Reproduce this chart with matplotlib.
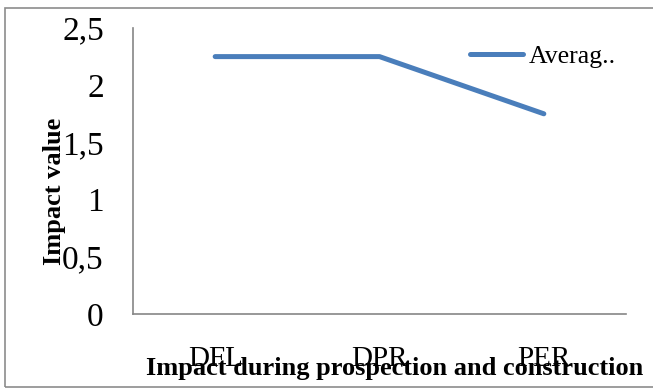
import matplotlib
matplotlib.use("Agg")
import matplotlib.pyplot as plt
from matplotlib.patches import Rectangle
from matplotlib.ticker import FixedLocator, FuncFormatter

categories = ["DFL", "DPR", "PER"]
average = [2.25, 2.25, 1.75]
y_ticks = [0, 0.5, 1, 1.5, 2, 2.5]
series_name = "Averag.."

plt.rcParams["font.family"] = ["Liberation Serif", "DejaVu Serif"]

W, H = 653, 388
fig = plt.figure(figsize=(W / 100, H / 100), dpi=100)

# outer chart frame
fig.patches.append(Rectangle((5 / W, 1 - 387 / H), 700 / W, (387 - 8) / H,
                             transform=fig.transFigure, fill=False,
                             edgecolor="#8c8c8c", linewidth=1.2))

ax = fig.add_axes([133 / W, 1 - 314 / H, (626 - 133) / W, (314 - 28) / H])
x = list(range(len(categories)))
ax.plot(x, average, color="#4A7EBB", linewidth=3.6, solid_capstyle="round",
        label=series_name)

ax.set_xlim(-0.5, len(categories) - 0.5)
ax.set_ylim(0, 2.5)
ax.yaxis.set_major_locator(FixedLocator(y_ticks))
ax.yaxis.set_major_formatter(FuncFormatter(lambda v, p: f"{v:g}".replace(".", ",")))
ax.set_xticks(x)
ax.set_xticklabels(categories)

for s in ("top", "right"):
    ax.spines[s].set_visible(False)
for s in ("left", "bottom"):
    ax.spines[s].set_color("#868686")
    ax.spines[s].set_linewidth(1.2)

ax.tick_params(axis="y", length=0, pad=21, labelsize=24)
ax.tick_params(axis="x", length=0, pad=23, labelsize=21)

fig.text(54 / W, 1 - 191 / H, "Impact value", rotation=90, ha="center",
         va="center", fontsize=19, fontweight="bold")
fig.text(395 / W, 1 - 369 / H, "Impact during prospection and construction",
         ha="center", va="center", fontsize=19, fontweight="bold")

ax.legend(loc="upper left", bbox_to_anchor=(470 / W, 1 - 45 / H),
          bbox_transform=fig.transFigure, frameon=False, fontsize=18.5,
          handlelength=2.05, handletextpad=0.25, borderpad=0, borderaxespad=0)

fig.savefig("out.png", dpi=100)
